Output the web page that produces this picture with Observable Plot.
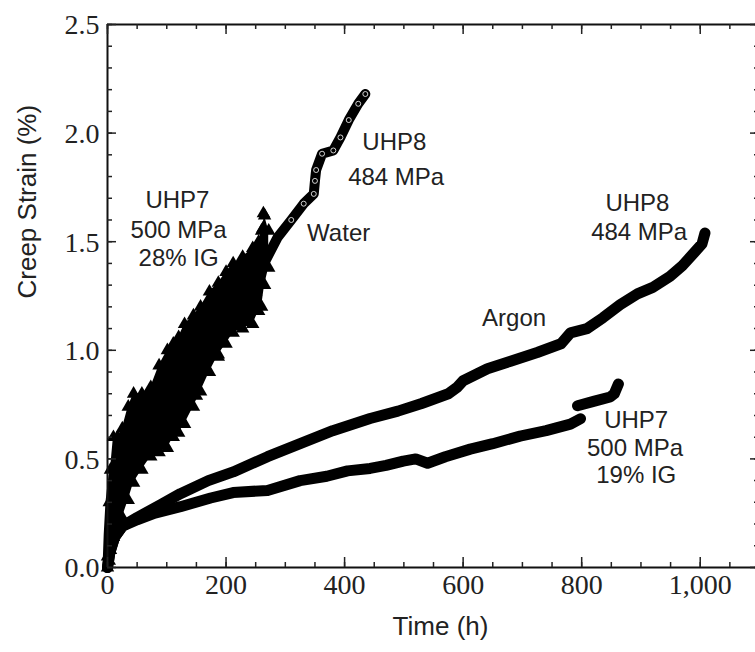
<!DOCTYPE html>
<html><head><meta charset="utf-8">
<script src="https://cdn.jsdelivr.net/npm/d3@7"></script>
<script src="https://cdn.jsdelivr.net/npm/@observablehq/plot@0.6"></script>
<style>
html,body{margin:0;padding:0;background:#fff;overflow:hidden;}
#chart svg{overflow:hidden;display:block;}
</style></head><body><div id="chart"></div>
<script>
// ---- tick values ----
const xLabelTicks = [0, 200, 400, 600, 800, 1000];
const xMinorTicks = [0,50,100,150,200,250,300,350,400,450,500,550,600,650,700,750,800,850,900,950,1000,1050,1100];
const yLabelTicks = [0.0, 0.5, 1.0, 1.5, 2.0, 2.5];
const yMinorTicks = [0,0.1,0.2,0.3,0.4,0.5,0.6,0.7,0.8,0.9,1.0,1.1,1.2,1.3,1.4,1.5,1.6,1.7,1.8,1.9,2.0,2.1,2.2,2.3,2.4,2.5];

// ---- UHP8 484 MPa, Argon ----
const argonX = [0,4,12,25,50,90,123,170,212,270,325,380,443,490,530,575,590,600,641,680,725,765,781,809,836,865,894,920,949,970,990,1003,1008];
const argonY = [0,0.07,0.14,0.19,0.23,0.29,0.34,0.40,0.44,0.51,0.57,0.63,0.686,0.72,0.755,0.80,0.83,0.86,0.915,0.95,0.99,1.03,1.08,1.10,1.15,1.21,1.26,1.29,1.34,1.39,1.45,1.49,1.54];

// ---- UHP7 500 MPa 19% IG, Argon ----
const lowX = [0,4,12,25,50,80,123,174,212,270,325,370,405,443,470,499,520,540,570,612,650,696,740,781,798,796,793,820,848,855,862];
const lowY = [0,0.07,0.14,0.19,0.22,0.25,0.28,0.32,0.345,0.355,0.40,0.42,0.445,0.456,0.47,0.49,0.50,0.48,0.51,0.545,0.57,0.605,0.63,0.66,0.685,null,0.745,0.765,0.785,0.80,0.845];

// ---- UHP8 484 MPa, Water (circles) ----
const waterX = [0,2,5,10,20,40,70,100,130,160,190,215,240,258,287,310,331,348,350,352,362,381,393,407,423,435];
const waterY = [0,0.15,0.3,0.42,0.5,0.58,0.7,0.8,0.92,1.03,1.14,1.24,1.32,1.367,1.52,1.6,1.675,1.72,1.78,1.83,1.905,1.92,1.98,2.06,2.135,2.18];

// ---- UHP7 500 MPa 28% IG, Water (triangles): scatter envelope ----
const triX  = [0,3,5,10,17,25,35,44,58,73,87,101,111,120,130,145,157,172,187,200,212,228,245,255,260,265,272];
const triLo = [0,0.03,0.08,0.14,0.2,0.23,0.31,0.39,0.45,0.51,0.53,0.55,0.6,0.62,0.66,0.74,0.81,0.9,0.98,1.03,1.08,1.1,1.12,1.18,1.2,1.3,1.38];
const triHi = [0.05,0.3,0.45,0.6,0.6,0.64,0.74,0.8,0.8,0.83,0.93,1.0,1.03,1.06,1.12,1.16,1.2,1.27,1.31,1.36,1.4,1.43,1.47,1.5,1.55,1.62,1.55];
const triOutX = [187,229,250,255,263,262,123,111,150];
const triOutY = [0.97,1.13,1.27,1.3,1.63,1.56,0.69,1.02,0.79];

// ---- annotations ----
const annText = ["UHP7","500 MPa","28% IG","Water","UHP8","484 MPa","UHP8","484 MPa","Argon","UHP7","500 MPa","19% IG"];
const annX    = [118,120,120,390,484,487,894,897,686,892,890,892];
const annY    = [1.69,1.552,1.423,1.538,1.957,1.796,1.676,1.542,1.146,0.677,0.548,0.424];

const argon = argonX.map((x,i)=>({x, y: argonY[i]}));
const low = lowX.map((x,i)=>({x, y: lowY[i]}));
const water = waterX.map((x,i)=>({x, y: waterY[i]}));
const tri = triX.map((x,i)=>({x, lo: triLo[i], hi: triHi[i]}));
const triPts = [...tri.map(d=>({x:d.x,y:d.lo})), ...tri.map(d=>({x:d.x,y:d.hi})), ...triOutX.map((x,i)=>({x,y:triOutY[i]}))];
const ann = annText.map((t,i)=>({t, x: annX[i], y: annY[i]}));

const W = 755, H = 652, mL = 107, mT = 24, mB = 85, mR = -4;
const plotH = H - mT - mB, plotW = W - mL - mR;
const serif = "'Liberation Serif', 'Times New Roman', serif";
const sans = "'Liberation Sans', Arial, Helvetica, sans-serif";

const chart = Plot.plot({
  width: W, height: H,
  marginLeft: mL, marginRight: mR, marginTop: mT, marginBottom: mB,
  style: {background: "white", color: "#222"},
  x: {domain: [0, 1100], axis: null},
  y: {domain: [0, 2.5], axis: null},
  marks: [
    // data
    Plot.areaY(tri, {x: "x", y1: "lo", y2: "hi", fill: "black"}),
    Plot.dot(triPts, {x: "x", y: "y", symbol: "triangle", r: 5, fill: "black"}),
    Plot.line(water, {x: "x", y: "y", stroke: "black", strokeWidth: 10, strokeLinecap: "round", strokeLinejoin: "round"}),
    Plot.dot(water.filter(d => d.x > 300), {x: "x", y: "y", r: 2.5, stroke: "white", strokeWidth: 0.8}),
    Plot.line(argon, {x: "x", y: "y", stroke: "black", strokeWidth: 11, strokeLinecap: "round", strokeLinejoin: "round"}),
    Plot.line(low, {x: "x", y: "y", stroke: "black", strokeWidth: 11, strokeLinecap: "round", strokeLinejoin: "round"}),
    // frame
    Plot.ruleY([0, 2.5], {stroke: "#111", strokeWidth: 2}),
    Plot.ruleX([0, 1100], {stroke: "#111", strokeWidth: 2}),
    // inward ticks
    Plot.tickX(xMinorTicks, {x: d => d, insetTop: plotH - 5, strokeWidth: 1.5}),
    Plot.tickX(xLabelTicks, {x: d => d, insetTop: plotH - 10, strokeWidth: 1.5}),
    Plot.tickX(xMinorTicks, {x: d => d, insetBottom: plotH - 5, strokeWidth: 1.5}),
    Plot.tickX(xLabelTicks, {x: d => d, insetBottom: plotH - 10, strokeWidth: 1.5}),
    Plot.tickY(yMinorTicks, {y: d => d, insetRight: plotW - 5, strokeWidth: 1.5}),
    Plot.tickY(yLabelTicks, {y: d => d, insetRight: plotW - 9, strokeWidth: 1.5}),
    Plot.tickY(yMinorTicks, {y: d => d, insetLeft: plotW - 5, strokeWidth: 1.5}),
    Plot.tickY(yLabelTicks, {y: d => d, insetLeft: plotW - 9, strokeWidth: 1.5}),
    // tick labels (serif)
    Plot.text(xLabelTicks, {x: d => d, text: d3.format(","), frameAnchor: "bottom", dy: 26, fontSize: 28, fontFamily: serif, fill: "#222"}),
    Plot.text(yLabelTicks, {y: d => d, text: d3.format(".1f"), frameAnchor: "left", textAnchor: "end", dx: -8, dy: 1, fontSize: 28, fontFamily: serif, fill: "#222"}),
    // axis titles
    Plot.text(["Time (h)"], {text: d => d, frameAnchor: "bottom", dy: 67, dx: 7, fontSize: 26, fontFamily: sans, fill: "#222"}),
    Plot.text(["Creep Strain (%)"], {text: d => d, frameAnchor: "left", dx: -80, dy: 2.5, rotate: -90, fontSize: 26, fontFamily: sans, fill: "#222"}),
    // annotations
    Plot.text(ann, {x: "x", y: "y", text: "t", fontSize: 24, fontFamily: sans, fill: "#222"})
  ]
});
document.getElementById("chart").append(chart);
</script></body></html>
